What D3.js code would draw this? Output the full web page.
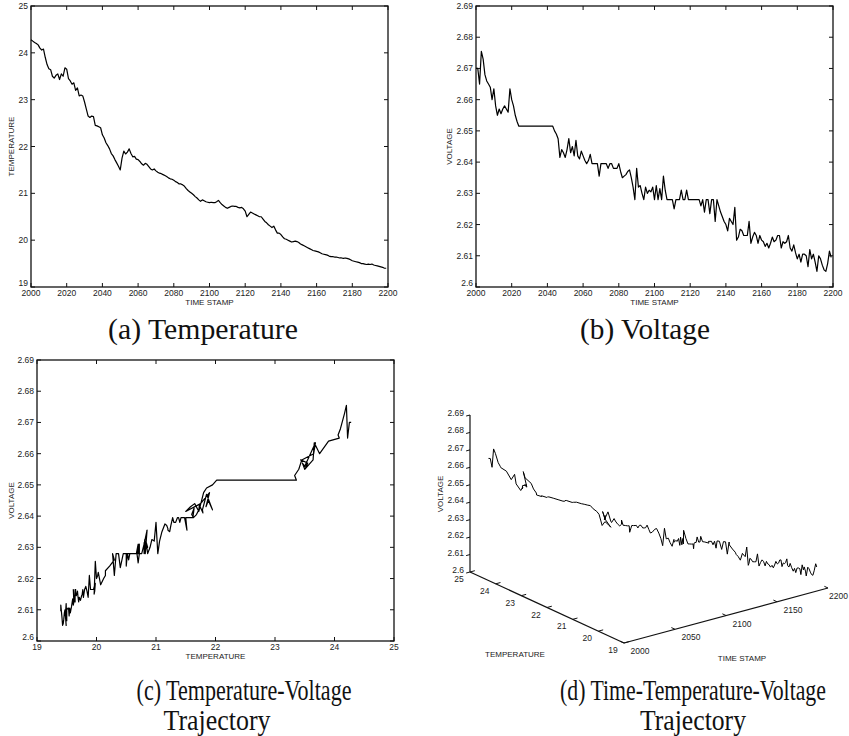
<!DOCTYPE html>
<html>
<head>
<meta charset="utf-8">
<script src="https://cdn.jsdelivr.net/npm/d3@7"></script>
<style>
  body { margin: 0; background: #fff; }
  svg { display: block; }
  .tick-label { font-family: "Liberation Sans", Arial, sans-serif; font-size: 8.5px; fill: #222; }
  .axis-title { font-family: "Liberation Sans", Arial, sans-serif; font-size: 8px; fill: #222; }
  .caption { font-family: "Liberation Serif", "DejaVu Serif", serif; font-size: 29px; fill: #111; }
</style>
</head>
<body>
<svg id="chart" width="849" height="736"></svg>
<script>
// sample index (one reading per time stamp)
const timeStamps = d3.range(2000, 2200)

const temperature = [
  24.28, 24.25, 24.22, 24.20, 24.17, 24.10, 24.06, 24.08, 23.90, 23.75,
  23.66, 23.64, 23.50, 23.46, 23.52, 23.55, 23.43, 23.55, 23.50, 23.68,
  23.65, 23.45, 23.40, 23.33, 23.36, 23.20, 23.25, 23.08, 23.10, 23.08,
  22.95, 22.80, 22.65, 22.62, 22.65, 22.64, 22.45, 22.44, 22.42, 22.40,
  22.25, 22.18, 22.08, 22.02, 21.95, 21.85, 21.80, 21.72, 21.65, 21.58,
  21.50, 21.75, 21.90, 21.84, 21.88, 21.95, 21.85, 21.78, 21.79, 21.73,
  21.72, 21.68, 21.63, 21.60, 21.64, 21.62, 21.57, 21.52, 21.50, 21.52,
  21.48, 21.45, 21.43, 21.42, 21.40, 21.38, 21.36, 21.33, 21.31, 21.30,
  21.28, 21.25, 21.23, 21.20, 21.20, 21.18, 21.15, 21.10, 21.06, 21.03,
  21.00, 20.97, 20.93, 20.90, 20.86, 20.83, 20.86, 20.84, 20.82, 20.81,
  20.80, 20.81, 20.80, 20.80, 20.82, 20.85, 20.80, 20.76, 20.73, 20.70,
  20.68, 20.70, 20.72, 20.73, 20.72, 20.72, 20.70, 20.69, 20.70, 20.67,
  20.62, 20.50, 20.55, 20.60, 20.58, 20.56, 20.54, 20.52, 20.50, 20.50,
  20.45, 20.40, 20.37, 20.33, 20.30, 20.27, 20.30, 20.22, 20.15, 20.15,
  20.12, 20.07, 20.03, 20.02, 20.00, 19.98, 19.96, 19.97, 19.98, 19.97,
  19.95, 19.92, 19.90, 19.88, 19.86, 19.84, 19.82, 19.80, 19.78, 19.77,
  19.76, 19.75, 19.73, 19.71, 19.70, 19.69, 19.68, 19.66, 19.65, 19.65,
  19.64, 19.64, 19.63, 19.62, 19.62, 19.61, 19.62, 19.61, 19.60, 19.58,
  19.56, 19.55, 19.54, 19.53, 19.52, 19.50, 19.50, 19.49, 19.48, 19.49,
  19.48, 19.49, 19.47, 19.46, 19.45, 19.44, 19.43, 19.42, 19.40, 19.40
]

const voltage = [
  2.6700, 2.6700, 2.6650, 2.6755, 2.6730, 2.6680, 2.6660, 2.6650, 2.6640, 2.6600,
  2.6635, 2.6580, 2.6550, 2.6570, 2.6555, 2.6570, 2.6580, 2.6570, 2.6560, 2.6635,
  2.6600, 2.6580, 2.6550, 2.6530, 2.6515, 2.6515, 2.6515, 2.6515, 2.6515, 2.6515,
  2.6515, 2.6515, 2.6515, 2.6515, 2.6515, 2.6515, 2.6515, 2.6515, 2.6515, 2.6515,
  2.6515, 2.6515, 2.6515, 2.6515, 2.6500, 2.6490, 2.6475, 2.6415, 2.6440, 2.6430,
  2.6415, 2.6440, 2.6475, 2.6430, 2.6450, 2.6420, 2.6470, 2.6420, 2.6410, 2.6435,
  2.6420, 2.6405, 2.6395, 2.6405, 2.6425, 2.6395, 2.6395, 2.6395, 2.6395, 2.6355,
  2.6395, 2.6395, 2.6395, 2.6395, 2.6380, 2.6395, 2.6395, 2.6380, 2.6380, 2.6380,
  2.6395, 2.6370, 2.6350, 2.6355, 2.6360, 2.6370, 2.6375, 2.6350, 2.6320, 2.6280,
  2.6380, 2.6320, 2.6325, 2.6300, 2.6280, 2.6320, 2.6300, 2.6310, 2.6305, 2.6320,
  2.6280, 2.6325, 2.6280, 2.6315, 2.6280, 2.6355, 2.6310, 2.6280, 2.6280, 2.6280,
  2.6280, 2.6250, 2.6280, 2.6280, 2.6280, 2.6310, 2.6280, 2.6280, 2.6310, 2.6280,
  2.6280, 2.6280, 2.6280, 2.6280, 2.6280, 2.6280, 2.6260, 2.6280, 2.6240, 2.6280,
  2.6280, 2.6235, 2.6280, 2.6280, 2.6210, 2.6280, 2.6260, 2.6240, 2.6225, 2.6210,
  2.6200, 2.6180, 2.6220, 2.6210, 2.6200, 2.6255, 2.6150, 2.6160, 2.6185, 2.6180,
  2.6165, 2.6165, 2.6165, 2.6210, 2.6140, 2.6160, 2.6175, 2.6165, 2.6140, 2.6165,
  2.6150, 2.6145, 2.6130, 2.6140, 2.6125, 2.6140, 2.6160, 2.6145, 2.6150, 2.6165,
  2.6165, 2.6125, 2.6145, 2.6140, 2.6145, 2.6165, 2.6125, 2.6115, 2.6135, 2.6110,
  2.6090, 2.6105, 2.6080, 2.6105, 2.6105, 2.6100, 2.6065, 2.6120, 2.6090, 2.6105,
  2.6080, 2.6050, 2.6100, 2.6090, 2.6070, 2.6055, 2.6050, 2.6075, 2.6115, 2.6095
]

const timeTicks = [2000, 2020, 2040, 2060, 2080, 2100, 2120, 2140, 2160, 2180, 2200]
const tempTicks = [19, 20, 21, 22, 23, 24, 25]
const voltTicks = [2.6, 2.61, 2.62, 2.63, 2.64, 2.65, 2.66, 2.67, 2.68, 2.69]
const timeTicks3d = [2000, 2050, 2100, 2150, 2200]

const captions = [
  { lines: ['(a) Temperature'], xs: [203], y: 339, widths: [190] },
  { lines: ['(b) Voltage'], xs: [645], y: 339, widths: [130] },
  { lines: ['(c) Temperature-Voltage', 'Trajectory'], xs: [244, 217], y: 700, widths: [215, 107] },
  { lines: ['(d) Time-Temperature-Voltage', 'Trajectory'], xs: [693, 693], y: 700, widths: [266, 106] }
]

const rows = timeStamps.map((t, i) => ({ t: t, temp: temperature[i], volt: voltage[i] }))
const svg = d3.select('#chart')
const fmtV = d => d3.format('.2~f')(d)

// --- 2d panel in matlab style (box, inward ticks on all sides) ---
function panel2d(opts) {
  const { left, right, top, bottom } = opts
  const x = d3.scaleLinear().domain(opts.xDomain).range([left, right])
  const y = d3.scaleLinear().domain(opts.yDomain).range([bottom, top])
  const g = svg.append('g')

  g.append('rect')
    .attr('x', left).attr('y', top)
    .attr('width', right - left).attr('height', bottom - top)
    .attr('fill', 'none').attr('stroke', '#111').attr('stroke-width', 1.3)

  const tk = 4
  g.append('g').selectAll('path').data(opts.xTicks).join('path')
    .attr('d', d => `M${x(d)},${bottom}v${-tk}M${x(d)},${top}v${tk}`)
    .attr('stroke', '#111').attr('stroke-width', 1)
  g.append('g').selectAll('path').data(opts.yTicks).join('path')
    .attr('d', d => `M${left},${y(d)}h${tk}M${right},${y(d)}h${-tk}`)
    .attr('stroke', '#111').attr('stroke-width', 1)

  g.append('g').selectAll('text').data(opts.xTicks).join('text')
    .attr('class', 'tick-label')
    .attr('x', d => x(d)).attr('y', bottom + 9)
    .attr('text-anchor', 'middle')
    .text(d => d)
  g.append('g').selectAll('text').data(opts.yTicks).join('text')
    .attr('class', 'tick-label')
    .attr('x', left - 3).attr('y', (d, i) => y(d) + (i === 0 ? -1 : 3))
    .attr('text-anchor', 'end')
    .text(opts.yFormat)

  g.append('text').attr('class', 'axis-title')
    .attr('x', (left + right) / 2).attr('y', bottom + 18)
    .attr('text-anchor', 'middle').text(opts.xLabel)
  g.append('text').attr('class', 'axis-title')
    .attr('transform', `translate(${opts.yLabelX},${(top + bottom) / 2}) rotate(-90)`)
    .attr('text-anchor', 'middle').text(opts.yLabel)

  const line = d3.line().x(d => x(opts.xv(d))).y(d => y(opts.yv(d)))
  g.append('path').datum(rows)
    .attr('d', line)
    .attr('fill', 'none').attr('stroke', '#000').attr('stroke-width', 1.2)
    .attr('stroke-linejoin', 'round')
}

panel2d({
  left: 31, right: 388, top: 6, bottom: 287,
  xDomain: [2000, 2200], yDomain: [19, 25],
  xTicks: timeTicks, yTicks: tempTicks, yFormat: d => d,
  xLabel: 'TIME STAMP', yLabel: 'TEMPERATURE', yLabelX: 14,
  xv: d => d.t, yv: d => d.temp
})

panel2d({
  left: 476, right: 833, top: 6, bottom: 287,
  xDomain: [2000, 2200], yDomain: [2.6, 2.69],
  xTicks: timeTicks, yTicks: voltTicks, yFormat: fmtV,
  xLabel: 'TIME STAMP', yLabel: 'VOLTAGE', yLabelX: 452,
  xv: d => d.t, yv: d => d.volt
})

panel2d({
  left: 37, right: 394, top: 360, bottom: 641,
  xDomain: [19, 25], yDomain: [2.6, 2.69],
  xTicks: tempTicks, yTicks: voltTicks, yFormat: fmtV,
  xLabel: 'TEMPERATURE', yLabel: 'VOLTAGE', yLabelX: 14,
  xv: d => d.temp, yv: d => d.volt
})

// --- 3d panel: oblique projection of (time, temperature, voltage) ---
const origin = [624, 643]
const tAx = d3.scaleLinear().domain([2000, 2200]).range([0, 1])
const TAx = d3.scaleLinear().domain([19, 25]).range([0, 1])
const VAx = d3.scaleLinear().domain([2.6, 2.69]).range([0, 1])
const dirT = [204, -55]
const dirTemp = [-154, -71]
const dirV = [0, -157]

function proj(t, T, V) {
  const a = tAx(t), b = TAx(T), c = VAx(V)
  return [
    origin[0] + a * dirT[0] + b * dirTemp[0] + c * dirV[0],
    origin[1] + a * dirT[1] + b * dirTemp[1] + c * dirV[1]
  ]
}

const g3 = svg.append('g')
const axisPts = [
  [proj(2000, 25, 2.6), proj(2000, 25, 2.69)],
  [proj(2000, 25, 2.6), proj(2000, 19, 2.6)],
  [proj(2000, 19, 2.6), proj(2200, 19, 2.6)]
]
g3.selectAll('line.ax').data(axisPts).join('line')
  .attr('x1', d => d[0][0]).attr('y1', d => d[0][1])
  .attr('x2', d => d[1][0]).attr('y2', d => d[1][1])
  .attr('stroke', '#111').attr('stroke-width', 1.2)

function unit(v, len) {
  const n = Math.hypot(v[0], v[1])
  return [v[0] / n * len, v[1] / n * len]
}

// voltage ticks
const vt = unit([-dirT[0], -dirT[1]], 4)
g3.append('g').selectAll('path').data(voltTicks).join('path')
  .attr('d', d => { const p = proj(2000, 25, d); return `M${p[0]},${p[1]}l${vt[0]},${vt[1]}` })
  .attr('stroke', '#111')
g3.append('g').selectAll('text').data(voltTicks).join('text')
  .attr('class', 'tick-label')
  .attr('x', d => proj(2000, 25, d)[0] - 6)
  .attr('y', d => proj(2000, 25, d)[1] + 1)
  .attr('text-anchor', 'end')
  .text(fmtV)

// temperature ticks
const tt = unit(dirT, 5)
g3.append('g').selectAll('path').data(tempTicks).join('path')
  .attr('d', d => { const p = proj(2000, d, 2.6); return `M${p[0]},${p[1]}l${tt[0]},${tt[1]}` })
  .attr('stroke', '#111')
g3.append('g').selectAll('text').data(tempTicks).join('text')
  .attr('class', 'tick-label')
  .attr('x', d => proj(2000, d, 2.6)[0] - 11)
  .attr('y', d => proj(2000, d, 2.6)[1] + 10)
  .attr('text-anchor', 'middle')
  .text(d => d)

// time ticks
const ht = unit(dirTemp, 4)
g3.append('g').selectAll('path').data(timeTicks3d).join('path')
  .attr('d', d => { const p = proj(d, 19, 2.6); return `M${p[0]},${p[1]}l${ht[0]},${ht[1]}` })
  .attr('stroke', '#111')
g3.append('g').selectAll('text').data(timeTicks3d).join('text')
  .attr('class', 'tick-label')
  .attr('x', d => proj(d, 19, 2.6)[0] + 16)
  .attr('y', d => proj(d, 19, 2.6)[1] + 11)
  .attr('text-anchor', 'middle')
  .text(d => d)
  .each(function() {
    // keep the last label inside the picture
    const w = this.getComputedTextLength()
    const cx = +this.getAttribute('x')
    if (cx + w / 2 > 848) this.setAttribute('x', 848 - w / 2)
  })

g3.append('text').attr('class', 'axis-title')
  .attr('x', 515).attr('y', 657).attr('text-anchor', 'middle').text('TEMPERATURE')
g3.append('text').attr('class', 'axis-title')
  .attr('x', 742).attr('y', 661).attr('text-anchor', 'middle').text('TIME STAMP')
g3.append('text').attr('class', 'axis-title')
  .attr('transform', 'translate(443,494) rotate(-90)')
  .attr('text-anchor', 'middle').text('VOLTAGE')

g3.append('path').datum(rows)
  .attr('d', d3.line().x(d => proj(d.t, d.temp, d.volt)[0]).y(d => proj(d.t, d.temp, d.volt)[1]))
  .attr('fill', 'none').attr('stroke', '#000').attr('stroke-width', 1)
  .attr('stroke-linejoin', 'round')

// --- captions (narrow serif, squeezed horizontally to the measured width) ---
const cap = svg.append('g')
captions.forEach(c => {
  c.lines.forEach((ln, i) => {
    const t = cap.append('text').attr('class', 'caption')
      .attr('text-anchor', 'middle')
      .text(ln)
    const natural = t.node().getComputedTextLength()
    t.attr('transform', `translate(${c.xs[i]},${c.y + i * 30}) scale(${c.widths[i] / natural},1)`)
  })
})
</script>
</body>
</html>
